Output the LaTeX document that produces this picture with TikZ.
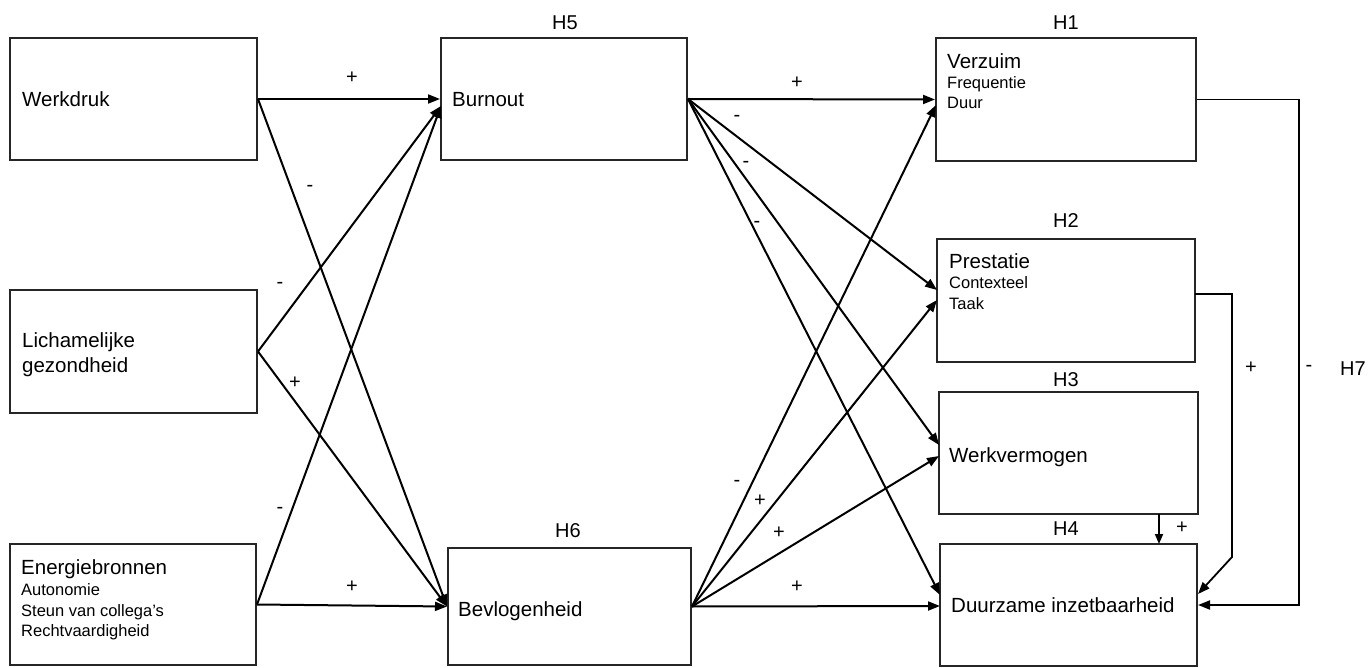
\documentclass[tikz,border=0pt]{standalone}
\usepackage{fontspec}
\setmainfont{Liberation Sans}
\usetikzlibrary{arrows.meta}
\begin{document}
\begin{tikzpicture}[x=1pt,y=-1pt,
  box/.style={draw=black!85,line width=2pt,inner sep=0pt},
  big/.style={anchor=base west,inner sep=0pt,font=\fontsize{20.5}{24}\selectfont},
  small/.style={anchor=base west,inner sep=0pt,font=\fontsize{16.5}{20}\selectfont},
  hyp/.style={anchor=base,inner sep=0pt,font=\fontsize{20}{24}\selectfont},
  sgn/.style={inner sep=0pt,font=\fontsize{20}{24}\selectfont},
  arr/.style={line width=2pt,-{Triangle[length=12pt,width=9pt]}},
  ln/.style={line width=1.8pt}]
\useasboundingbox (0,0) rectangle (1371,668);
% boxes
\node[box,minimum width=247pt,minimum height=122pt] (werk) at (133.5,99) {};
\node[box,minimum width=247pt,minimum height=123pt] (lich) at (133.5,351.5) {};
\node[box,minimum width=246pt,minimum height=121pt] (energ) at (133,604.5) {};
\node[box,minimum width=246pt,minimum height=122pt] (burn) at (564,99) {};
\node[box,minimum width=243pt,minimum height=117pt] (bevl) at (569.5,606.5) {};
\node[box,minimum width=260pt,minimum height=123pt] (verz) at (1066,99.5) {};
\node[box,minimum width=258pt,minimum height=123pt] (prest) at (1066,300.5) {};
\node[box,minimum width=259pt,minimum height=122pt] (wverm) at (1068.5,453) {};
\node[box,minimum width=257pt,minimum height=122pt] (duurz) at (1068.5,605) {};
% texts
\node[big] (t1) at (22,107) {Werkdruk};
\node[big] (t2) at (22,348) {Lichamelijke};
\node[big] (t3) at (22,373) {gezondheid};
\node[big] (t4) at (21,574) {Energiebronnen};
\node[small] (t5) at (21,595) {Autonomie};
\node[small] (t6) at (21,616) {Steun van collega's};
\node[small] (t7) at (21,636) {Rechtvaardigheid};
\node[big] (t8) at (452,107) {Burnout};
\node[big] (t9) at (458,616) {Bevlogenheid};
\node[big] (t10) at (947,69) {Verzuim};
\node[small] (t11) at (947,88.5) {Frequentie};
\node[small] (t12) at (947,109) {Duur};
\node[big] (t13) at (949,269) {Prestatie};
\node[small] (t14) at (949,289) {Contexteel};
\node[small] (t15) at (949,310) {Taak};
\node[big] (t16) at (949,462) {Werkvermogen};
\node[big] (t17) at (951,612) {Duurzame inzetbaarheid};
% hypothesis labels
\node[hyp] (h5) at (565,30) {H5};
\node[hyp] (h6) at (568,537) {H6};
\node[hyp] (h1) at (1066,30) {H1};
\node[hyp] (h2) at (1066,228) {H2};
\node[hyp] (h3) at (1066,386) {H3};
\node[hyp] (h4) at (1066,535) {H4};
\node[hyp] (h7) at (1353,375) {H7};
% helper coordinates
\coordinate (burnin) at (441,106);
\coordinate (verzin) at (936,105);
\coordinate (prestin1) at (937,290);
\coordinate (prestin2) at (937,300);
\coordinate (wvin1) at (939,445);
\coordinate (wvin2) at (939,456);
\coordinate (duin1) at (940,595);
\coordinate (duin2) at (940,606);
\coordinate (k1) at (1299,99.5);
\coordinate (k2) at (1299,605);
\coordinate (p1) at (1195,294);
\coordinate (p2) at (1232,294);
\coordinate (p3) at (1232,557);
\coordinate (p4) at (1198,594);
\coordinate (w1) at (1159,514);
\coordinate (w2) at (1159,544);
% left connectors
\draw[arr] (werk.east) -- (burn.west);
\draw[arr] (werk.east) -- (bevl.west);
\draw[arr] (lich.east) -- (burnin);
\draw[arr] (lich.east) -- (bevl.west);
\draw[arr] (energ.east) -- (burnin);
\draw[arr] (energ.east) -- (bevl.west);
% middle connectors
\draw[arr] (burn.east) -- (verz.west);
\draw[arr] (burn.east) -- (prestin1);
\draw[arr] (burn.east) -- (wvin1);
\draw[arr] (burn.east) -- (duin1);
\draw[arr] (bevl.east) -- (verzin);
\draw[arr] (bevl.east) -- (prestin2);
\draw[arr] (bevl.east) -- (wvin2);
\draw[arr] (bevl.east) -- (duin2);
% right connectors
\draw[ln,-{Triangle[length=12pt,width=9pt]}] (verz.east) -- (k1) -- (k2) -- (duurz.east);
\draw[ln,-{Triangle[length=12pt,width=9pt]}] (p1) -- (p2) -- (p3) -- (p4);
\draw[ln,-{Triangle[length=10pt,width=8pt]}] (w1) -- (w2);
% signs
\node[sgn] (s1) at (352,78) {+};
\node[sgn] (s2) at (310,188) {-};
\node[sgn] (s3) at (280,285) {-};
\node[sgn] (s4) at (295,383) {+};
\node[sgn] (s5) at (280,510) {-};
\node[sgn] (s6) at (352,587) {+};
\node[sgn] (s7) at (797,83) {+};
\node[sgn] (s8) at (737,118) {-};
\node[sgn] (s9) at (746,164) {-};
\node[sgn] (s10) at (757,224) {-};
\node[sgn] (s11) at (737,483) {-};
\node[sgn] (s12) at (760,501) {+};
\node[sgn] (s13) at (779,533) {+};
\node[sgn] (s14) at (797,587) {+};
\node[sgn] (s15) at (1251,368) {+};
\node[sgn] (s16) at (1309,368) {-};
\node[sgn] (s17) at (1182,528) {+};
\end{tikzpicture}
\end{document}
